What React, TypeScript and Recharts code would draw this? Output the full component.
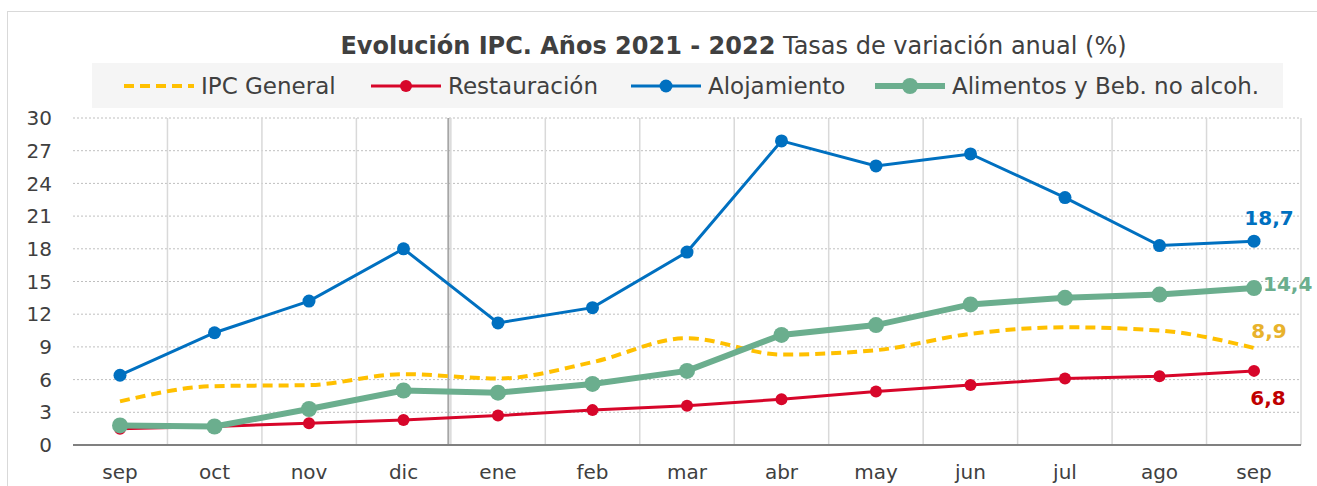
import { CartesianGrid, LabelList, Line, LineChart, XAxis, YAxis } from 'recharts';

const months = ['sep', 'oct', 'nov', 'dic', 'ene', 'feb', 'mar', 'abr', 'may', 'jun', 'jul', 'ago', 'sep'];
const ipcGeneral = [4.0, 5.4, 5.5, 6.5, 6.1, 7.6, 9.8, 8.3, 8.7, 10.2, 10.8, 10.5, 8.9];
const restauracion = [1.5, 1.7, 2.0, 2.3, 2.7, 3.2, 3.6, 4.2, 4.9, 5.5, 6.1, 6.3, 6.8];
const alojamiento = [6.4, 10.3, 13.2, 18.0, 11.2, 12.6, 17.7, 27.9, 25.6, 26.7, 22.7, 18.3, 18.7];
const alimentos = [1.8, 1.7, 3.3, 5.0, 4.8, 5.6, 6.8, 10.1, 11.0, 12.9, 13.5, 13.8, 14.4];
const yTicks = [0, 3, 6, 9, 12, 15, 18, 21, 24, 27, 30];

const FONT = '"DejaVu Sans", sans-serif';
const TEXT = '#404040';

const series = [
  { key: 'ipc', name: 'IPC General', color: '#FFC000', labelColor: '#E8B22C', width: 4, dash: '10 6', dot: 0, labelDx: 15, labelDy: -17, anchor: 'middle', legendX: 31 },
  { key: 'rest', name: 'Restauración', color: '#D7062A', labelColor: '#C00000', width: 3, dash: undefined, dot: 6, labelDx: 14, labelDy: 27, anchor: 'middle', legendX: 278 },
  { key: 'aloj', name: 'Alojamiento', color: '#0070C0', labelColor: '#0070C0', width: 3, dash: undefined, dot: 6.5, labelDx: 15, labelDy: -23, anchor: 'middle', legendX: 538 },
  { key: 'alim', name: 'Alimentos y Beb. no alcoh.', color: '#6BAE8E', labelColor: '#6BAE8E', width: 6, dash: undefined, dot: 8, labelDx: 9, labelDy: -4, anchor: 'start', legendX: 782 },
];

const data = months.map((m, i) => ({
  month: m,
  ipc: ipcGeneral[i],
  rest: restauracion[i],
  aloj: alojamiento[i],
  alim: alimentos[i],
}));

const fmt = (v: number) => v.toFixed(1).replace('.', ',');

function Legend() {
  return (
    <div
      style={{
        position: 'absolute', left: 92, top: 63, width: 1191, height: 45, background: '#F5F5F5',
        fontFamily: FONT, fontSize: 23, color: TEXT,
      }}
    >
      {series.map((s) => (
        <div
          key={s.key}
          style={{ position: 'absolute', left: s.legendX, top: 0, height: 45, display: 'flex', alignItems: 'center', whiteSpace: 'nowrap' }}
        >
          <svg width={72} height={20} style={{ marginRight: 6, flexShrink: 0 }}>
            <line x1={1} x2={71} y1={10} y2={10} stroke={s.color} strokeWidth={s.width} strokeDasharray={s.dash} />
            {s.dot > 0 && <circle cx={36} cy={10} r={s.dot} fill={s.color} />}
          </svg>
          <span>{s.name}</span>
        </div>
      ))}
    </div>
  );
}

export default function App() {
  return (
    <div style={{ position: 'absolute', left: 0, top: 0, width: 1317, height: 486, overflow: 'hidden', background: '#fff' }}>
      <div style={{ position: 'absolute', left: 7, top: 11, width: 1330, height: 500, border: '1.5px solid #D9D9D9' }} />
      <div
        style={{
          position: 'absolute', left: 0, top: 32, width: 1467, textAlign: 'center',
          fontFamily: FONT, fontSize: 24, color: TEXT, whiteSpace: 'nowrap',
        }}
      >
        <b>Evolución IPC. Años 2021 - 2022</b> Tasas de variación anual (%)
      </div>
      <Legend />
      <div style={{ position: 'absolute', left: 0, top: 0 }}>
        <LineChart width={1317} height={486} data={data} margin={{ top: 118, right: 16, bottom: 11, left: 13 }}>
          <CartesianGrid vertical={false} stroke="#BFBFBF" strokeDasharray="2 2" />
          <CartesianGrid
            horizontal={false}
            stroke="#D9D9D9"
            strokeWidth={1.5}
            verticalCoordinatesGenerator={({ offset }: any) =>
              months.map((_, k) => offset.left + (offset.width * (k + 1)) / months.length)
            }
          />
          <CartesianGrid
            horizontal={false}
            stroke="#A6A6A6"
            strokeWidth={2}
            verticalCoordinatesGenerator={({ offset }: any) => [offset.left + (offset.width * 4) / months.length - 2.5]}
          />
          <XAxis
            dataKey="month"
            height={30}
            padding={{ left: 47, right: 47 }}
            tickSize={0}
            tickMargin={20}
            axisLine={{ stroke: '#808080', strokeWidth: 2 }}
            tick={{ fill: TEXT, fontSize: 20, fontFamily: FONT }}
            interval={0}
          />
          <YAxis
            width={60}
            domain={[0, 30]}
            ticks={yTicks}
            interval={0}
            axisLine={false}
            tickLine={false}
            tickSize={0}
            tickMargin={21}
            tick={{ fill: TEXT, fontSize: 20, fontFamily: FONT }}
          />
          {series.map((s) => (
            <Line
              key={s.key}
              dataKey={s.key}
              name={s.name}
              type={s.key === 'ipc' ? 'monotone' : 'linear'}
              stroke={s.color}
              strokeWidth={s.width}
              strokeDasharray={s.dash}
              dot={s.dot > 0 ? { r: s.dot, fill: s.color, stroke: s.color, strokeWidth: 0 } : false}
              activeDot={false}
              isAnimationActive={false}
            >
              <LabelList
                dataKey={s.key}
                content={(p: any) =>
                  p.index === months.length - 1 ? (
                    <text
                      x={p.x + s.labelDx}
                      y={p.y + s.labelDy}
                      textAnchor={s.anchor}
                      dominantBaseline="central"
                      fill={s.labelColor}
                      fontFamily={FONT}
                      fontWeight="bold"
                      fontSize={20}
                    >
                      {fmt(p.value)}
                    </text>
                  ) : null
                }
              />
            </Line>
          ))}
        </LineChart>
      </div>
    </div>
  );
}
